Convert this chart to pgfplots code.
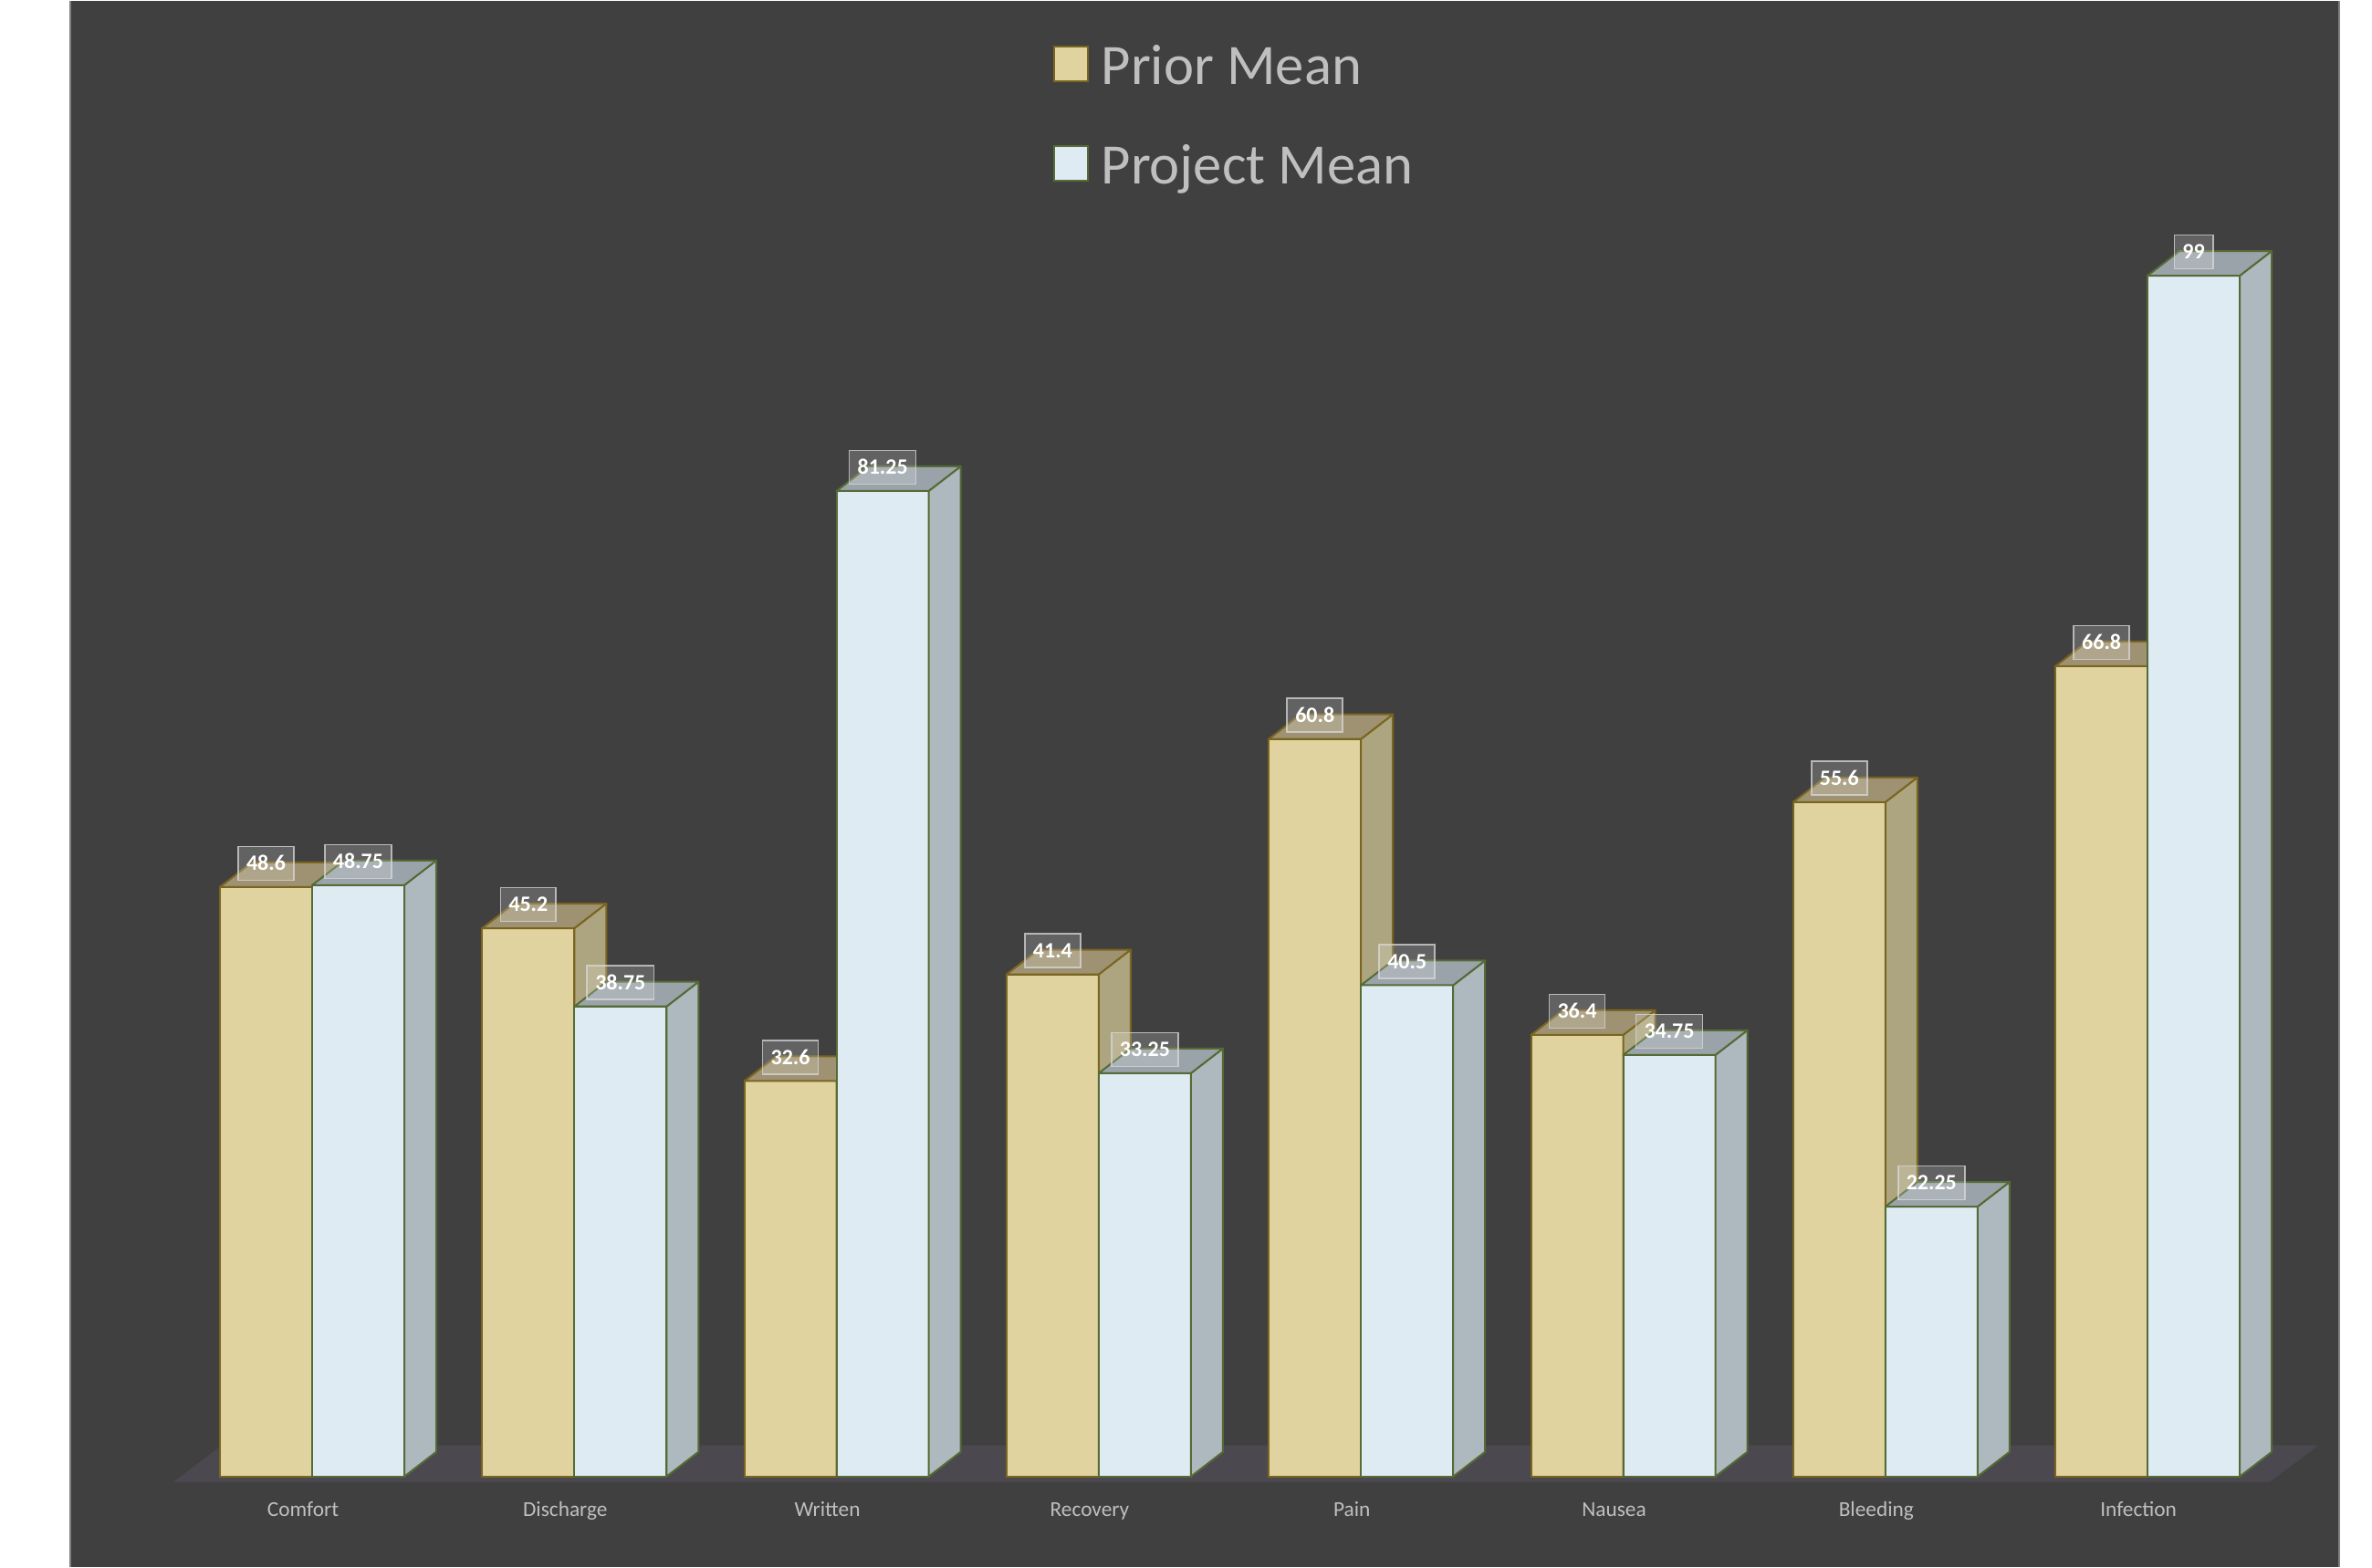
\documentclass[border=0pt]{standalone}
\usepackage{pgfplots}
\pgfplotsset{compat=1.18}
\usepackage{pgfplotstable}
\usepackage{fontspec}
\setmainfont{Carlito}
\definecolor{bg}{HTML}{404040}
\definecolor{floorc}{HTML}{4B4850}
\definecolor{frontP}{HTML}{E0D3A0}
\definecolor{sideP}{HTML}{ADA57F}
\definecolor{topP}{HTML}{9E9272}
\definecolor{edgeP}{HTML}{7A6520}
\definecolor{frontQ}{HTML}{DEEBF2}
\definecolor{sideQ}{HTML}{AEB9BF}
\definecolor{topQ}{HTML}{9AA3A9}
\definecolor{edgeQ}{HTML}{556B35}
\definecolor{lbl}{HTML}{BFBFBF}
\definecolor{frame}{HTML}{808080}
\pgfdeclareplotmark{nothing}{}
\pgfplotstableread{
x p q
0 48.6 48.75
1 45.2 38.75
2 32.6 81.25
3 41.4 33.25
4 60.8 40.5
5 36.4 34.75
6 55.6 22.25
7 66.8 99
}\data
\newcommand\drawfaces[4]{%
  \pgfmathsetmacro\hh{\val*3.987}%
  \filldraw[fill=#1, draw=#4, line width=0.6pt, line join=round]
    (-15.15pt,-\hh pt) rectangle (15.15pt,0pt);
  \filldraw[fill=#2, draw=#4, line width=0.6pt, line join=round]
    (15.15pt,0pt) -- (25.65pt,8.1pt) -- (25.65pt,8.1pt-\hh pt) -- (15.15pt,-\hh pt) -- cycle;
  \filldraw[fill=#3, draw=#4, line width=0.6pt, line join=round]
    (-15.15pt,0pt) -- (15.15pt,0pt) -- (25.65pt,8.1pt) -- (-4.65pt,8.1pt) -- cycle;
}
\tikzset{
  labelbox/.style={anchor=center, yshift=7.8pt, fill=white, fill opacity=0.18, draw=white!85!black, draw opacity=0.75,
    text opacity=1, text=white, line width=0.5pt, font=\bfseries\fontsize{7.2}{8}\selectfont,
    inner xsep=2.7pt, inner ysep=3.2pt, text height=4.7pt, text depth=0pt},
}
\pgfplotsset{
  mylegend/.style={legend image code/.code={\draw[##1,line width=0.6pt] (0pt,-3.25pt) rectangle (11.3pt,8.05pt);}},
}
\begin{document}
\begin{tikzpicture}
\begin{axis}[
  scale only axis, width=745.8pt, height=514.8pt,
  xmin=-0.9224, xmax=7.7306, ymin=-7.449, ymax=121.67,
  axis background/.style={fill=bg},
  axis line style={draw=none},
  clip=false,
  ytick=\empty, xtick={0,...,7},
  xticklabels={Comfort,Discharge,Written,Recovery,Pain,Nausea,Bleeding,Infection},
  major tick length=0pt,
  xticklabel style={font=\fontsize{7}{8}\selectfont, text=lbl, anchor=base, yshift=16.5pt, xshift=-3pt},
  legend style={at={(axis description cs:0.4328,0.9720)}, anchor=north west, draw=none, fill=none,
    text=lbl, font=\fontsize{18.8}{22}\selectfont, inner sep=0pt, row sep=15.77pt, column sep=4pt,
    nodes={inner sep=0pt, text height=13pt, text depth=4pt}},
  legend cell align=left,
]
\fill[floorc] (axis cs:-0.529,-0.45) -- (axis cs:7.466,-0.45) -- (axis cs:7.651,2.56) -- (axis cs:-0.345,2.56) -- cycle;
\draw[frame, line width=0.45pt] (rel axis cs:0,0) -- (rel axis cs:0,1);
\draw[frame, line width=0.45pt] (rel axis cs:1,0) -- (rel axis cs:1,1);

\addplot[ybar, bar width=0.3515, bar shift=-0.1758, fill=frontP, draw=edgeP, line width=0.6pt, mylegend]
  table[x=x, y=p]{\data};
\addlegendentry{Prior Mean}
\addplot[ybar, bar width=0.3515, bar shift=0.1758, fill=frontQ, draw=edgeQ, line width=0.6pt, mylegend]
  table[x=x, y=q]{\data};
\addlegendentry{Project Mean}

\addplot[forget plot, only marks, mark=nothing,
  nodes near coords={\pgfmathprintnumber[assume math mode=true]{\pgfplotspointmeta}},
  every node near coord/.style={labelbox},
  scatter,
  visualization depends on={\thisrow{p}\as\val},
  scatter/@pre marker code/.prefix code={\drawfaces{frontP}{sideP}{topP}{edgeP}}]
  table[x expr=\thisrow{x}-0.1758, y=p]{\data};
\addplot[forget plot, only marks, mark=nothing,
  nodes near coords={\pgfmathprintnumber[assume math mode=true]{\pgfplotspointmeta}},
  every node near coord/.style={labelbox},
  scatter,
  visualization depends on={\thisrow{q}\as\val},
  scatter/@pre marker code/.prefix code={\drawfaces{frontQ}{sideQ}{topQ}{edgeQ}}]
  table[x expr=\thisrow{x}+0.1758, y=q]{\data};
\end{axis}
\path ([xshift=-23.1pt]current axis.south west) ([xshift=10.8pt]current axis.north east);
\end{tikzpicture}
\end{document}
